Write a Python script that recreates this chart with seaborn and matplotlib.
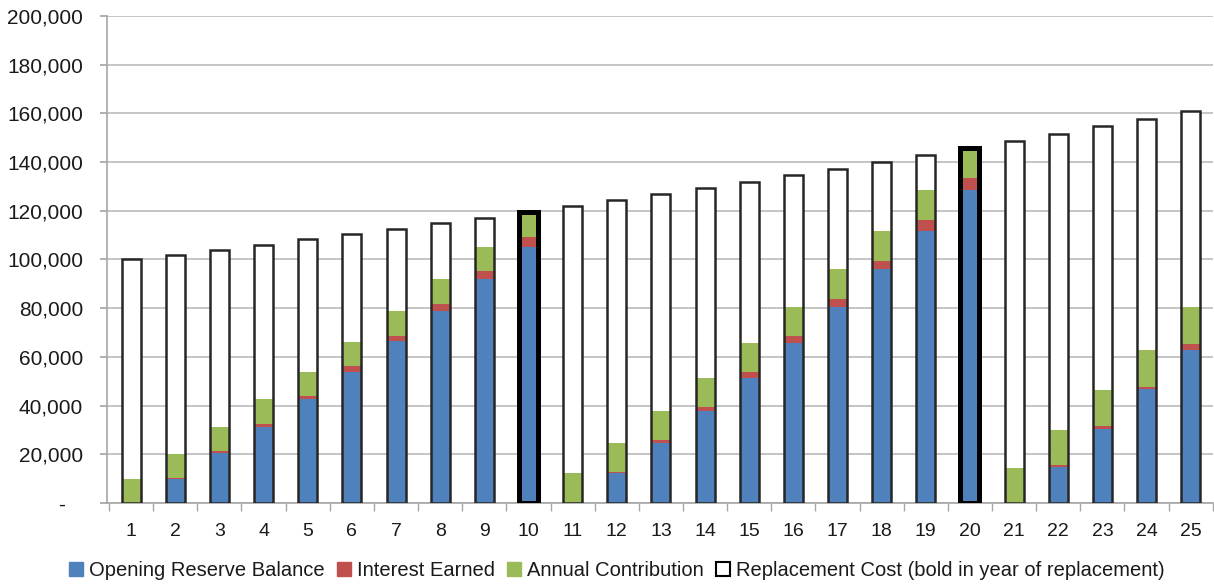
import pandas as pd
import seaborn as sns
import matplotlib.pyplot as plt
from matplotlib.patches import Patch
from matplotlib.ticker import FuncFormatter, FixedLocator

# values
years = [str(y) for y in range(1, 26)]
opening_balance = [0, 10000, 20500, 31300, 42700, 53800, 66500, 78800, 92000, 105200,
                   0, 12200, 24800, 37900, 51200, 65600, 80400, 96000, 111800, 128500,
                   0, 14900, 30400, 46700, 62800]
interest_earned = [0, 300, 800, 1100, 1300, 2300, 2200, 2900, 3400, 4100,
                   0, 400, 1000, 1600, 2500, 3000, 3300, 3500, 4400, 5100,
                   0, 600, 1200, 1100, 2700]
annual_contribution = [9900, 9800, 9900, 10300, 9800, 10100, 10100, 10300, 9800, 9700,
                       12300, 12200, 12100, 11700, 11900, 11800, 12300, 12300, 12300, 11400,
                       14600, 14500, 14800, 15000, 14900]
replacement_cost = [100000, 102000, 104000, 106100, 108200, 110400, 112600, 114900, 117200, 119500,
                    121900, 124300, 126800, 129400, 131900, 134600, 137300, 140000, 142800, 145700,
                    148600, 151600, 154600, 157700, 160800]
replacement_years = ["10", "20"]

BLUE = "#4F81BD"
RED = "#C0504D"
GREEN = "#9BBB59"

df = pd.DataFrame({
    "year": years,
    "opening": opening_balance,
    "interest": interest_earned,
    "contribution": annual_contribution,
    "replacement": replacement_cost,
})
df["top_interest"] = df["opening"] + df["interest"]
df["top_contribution"] = df["top_interest"] + df["contribution"]

sns.set_theme(style="white")
plt.rcParams["font.family"] = ["Liberation Sans", "DejaVu Sans"]

fig, ax = plt.subplots(figsize=(12.14, 5.85), dpi=100)
fig.subplots_adjust(left=0.088, right=0.999, top=0.973, bottom=0.14)

bw = 0.43
# white background of replacement bars (hides gridlines)
sns.barplot(data=df, x="year", y="replacement", color="white", saturation=1,
            width=bw, ax=ax, zorder=2, linewidth=0)
# stacked parts drawn tallest first
sns.barplot(data=df, x="year", y="top_contribution", color=GREEN, saturation=1,
            width=bw, ax=ax, zorder=3, linewidth=0)
sns.barplot(data=df, x="year", y="top_interest", color=RED, saturation=1,
            width=bw, ax=ax, zorder=3, linewidth=0)
sns.barplot(data=df, x="year", y="opening", color=BLUE, saturation=1,
            width=bw, ax=ax, zorder=3, linewidth=0)
# outlines of replacement cost on top
sns.barplot(data=df, x="year", y="replacement", color="#262626", fill=False,
            width=bw, ax=ax, zorder=4, linewidth=1.8)
for year, patch in zip(years, ax.containers[-1]):
    if year in replacement_years:
        patch.set_linewidth(3.6)
        patch.set_edgecolor("black")

ax.set_xlim(-0.55, 24.5)
ax.set_ylim(0, 200000)
ax.set_yticks(range(0, 200001, 20000))
ax.yaxis.set_major_formatter(FuncFormatter(lambda v, p: "-   " if v == 0 else f"{v:,.0f}"))
ax.yaxis.grid(True, color="#C0C0C0", linewidth=1.3, zorder=0)
ax.set_axisbelow(True)
ax.set_xlabel("")
ax.set_ylabel("")

for s in ["top", "right"]:
    ax.spines[s].set_visible(False)
ax.spines["left"].set_color("#A6A6A6")
ax.spines["bottom"].set_color("#A6A6A6")
ax.spines["left"].set_linewidth(1.2)
ax.spines["bottom"].set_linewidth(1.2)

ax.tick_params(axis="y", which="major", length=5, color="#A6A6A6", labelsize=15,
               labelcolor="#1A1A1A", pad=12, left=True)
ax.tick_params(axis="x", which="major", length=0, labelsize=14, labelcolor="#1A1A1A", pad=14)
ax.xaxis.set_minor_locator(FixedLocator([i + 0.5 for i in range(-1, 25)]))
ax.tick_params(axis="x", which="minor", length=6, color="#A6A6A6", bottom=True)

handles = [
    Patch(facecolor=BLUE, edgecolor=BLUE, label="Opening Reserve Balance"),
    Patch(facecolor=RED, edgecolor=RED, label="Interest Earned"),
    Patch(facecolor=GREEN, edgecolor=GREEN, label="Annual Contribution"),
    Patch(facecolor="white", edgecolor="black", linewidth=1.5,
          label="Replacement Cost (bold in year of replacement)"),
]
fig.legend(handles=handles, loc="lower center", ncol=4, frameon=False,
           bbox_to_anchor=(0.508, -0.022), fontsize=14.5, handlelength=0.7,
           handleheight=0.7, handletextpad=0.3, columnspacing=0.6,
           labelcolor="#1A1A1A")

fig.savefig("out.png", dpi=100)
